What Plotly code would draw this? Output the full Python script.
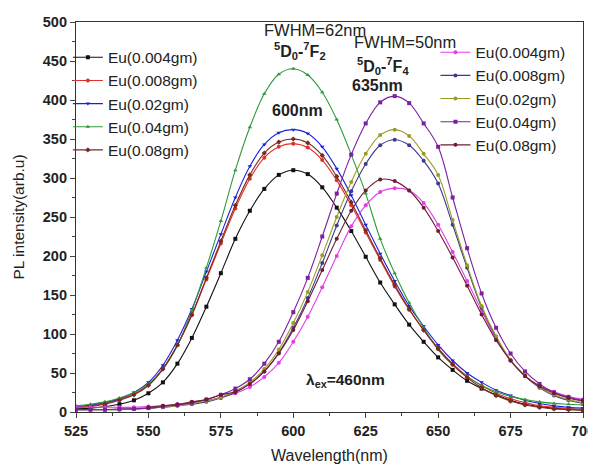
import plotly.graph_objects as go

wavelength = [525, 530, 535, 540, 545, 550, 555, 560, 565, 570, 575, 580, 585, 590, 595,
              600, 605, 610, 615, 620, 625, 630, 635, 640, 645, 650, 655, 660, 665, 670,
              675, 680, 685, 690, 695, 700]

labels = ["Eu(0.004gm)", "Eu(0.008gm)", "Eu(0.02gm)", "Eu(0.04gm)", "Eu(0.08gm)"]

# 5D0-7F2 band (600 nm)
f2_0004 = [4, 5, 7, 10, 15, 24, 38, 62, 95, 135, 178, 222, 258, 286, 304,
           310, 305, 288, 262, 232, 199, 166, 138, 112, 90, 70, 54, 40, 30, 22,
           15, 10, 7, 5, 4, 3]
f2_0008 = [6, 8, 11, 16, 23, 35, 56, 86, 124, 170, 216, 261, 299, 326, 340,
           344, 339, 323, 297, 265, 230, 195, 161, 131, 105, 82, 62, 46, 34, 24,
           17, 12, 8, 6, 4, 3]
f2_002 = [7, 9, 12, 17, 25, 38, 60, 92, 132, 180, 228, 275, 315, 343, 358,
          362, 357, 340, 312, 278, 240, 203, 168, 136, 110, 86, 66, 50, 38, 28,
          21, 15, 11, 8, 6, 5]
f2_004 = [8, 10, 13, 18, 25, 36, 55, 85, 130, 185, 245, 310, 365, 408, 433,
          440, 432, 410, 375, 330, 280, 222, 178, 140, 108, 80, 60, 45, 34, 26,
          20, 16, 13, 11, 10, 9]
f2_008 = [5, 7, 10, 15, 22, 34, 55, 86, 125, 172, 219, 265, 304, 332, 346,
          350, 345, 329, 302, 269, 233, 197, 163, 132, 105, 81, 61, 44, 31, 21,
          14, 9, 6, 4, 3, 2]

# 5D0-7F4 band (635 nm)
f4_0004 = [6, 6, 6, 6, 6, 7, 8, 10, 12, 15, 19, 24, 32, 45, 63,
           90, 122, 160, 200, 238, 265, 282, 287, 284, 268, 240, 205, 168, 130, 94,
           66, 46, 34, 26, 20, 16]
f4_0008 = [3, 3, 3, 3, 4, 5, 6, 8, 10, 13, 18, 25, 36, 52, 76,
           108, 146, 191, 239, 283, 318, 342, 349, 342, 322, 293, 240, 185, 134, 96,
           66, 46, 31, 21, 15, 11]
f4_002 = [3, 3, 3, 3, 4, 5, 6, 8, 11, 14, 19, 27, 38, 55, 80,
          114, 154, 201, 250, 295, 331, 355, 362, 354, 331, 304, 246, 188, 136, 97,
          67, 47, 32, 22, 16, 12]
f4_004 = [3, 3, 3, 4, 4, 5, 7, 9, 12, 16, 22, 30, 42, 62, 90,
          128, 172, 225, 280, 330, 370, 397, 405, 396, 370, 340, 275, 210, 152, 108,
          75, 52, 36, 25, 19, 15]
f4_008 = [None, None, None, None, None, 6, 8, 10, 13, 16, 22, 26, 36, 52, 75,
          105, 142, 182, 222, 258, 284, 298, 296, 284, 262, 232, 198, 162, 125, 92,
          66, 46, 33, 24, 18, 14]

f2_series = [f2_0004, f2_0008, f2_002, f2_004, f2_008]
f4_series = [f4_0004, f4_0008, f4_002, f4_004, f4_008]
f2_colors = ["#111111", "#e0302a", "#1a22d8", "#2e9a3a", "#7a2a1e"]
f4_colors = ["#e23ee6", "#3b3b8f", "#9b9b22", "#7d1fa0", "#6e1c32"]
f2_symbols = ["square", "circle", "triangle-down", "triangle-up", "diamond"]
f4_symbols = ["circle", "circle", "circle", "square", "circle"]

FONT = "Liberation Sans, Arial, sans-serif"

fig = go.Figure()
for lab, ys, c, s in zip(labels, f2_series, f2_colors, f2_symbols):
    fig.add_trace(go.Scatter(x=wavelength, y=ys, name=lab, mode="lines+markers",
                             line=dict(color=c, width=1.1, shape="spline"),
                             marker=dict(symbol=s, size=4, color=c),
                             legend="legend"))
for lab, ys, c, s in zip(labels, f4_series, f4_colors, f4_symbols):
    fig.add_trace(go.Scatter(x=wavelength, y=ys, name=lab, mode="lines+markers",
                             line=dict(color=c, width=1.1, shape="spline"),
                             marker=dict(symbol=s, size=4, color=c),
                             legend="legend2"))

ann_font = dict(family=FONT, size=16.5, color="#222222")
bold_font = dict(family=FONT, size=16, color="#222222", weight="bold")
annotations = [
    dict(x=607.5, y=490, text="FWHM=62nm", font=ann_font),
    dict(x=602.3, y=463, text="<sup>5</sup>D<sub>0</sub>-<sup>7</sup>F<sub>2</sub>", font=bold_font),
    dict(x=601.6, y=387, text="600nm", font=bold_font),
    dict(x=638.6, y=474, text="FWHM=50nm", font=ann_font),
    dict(x=631, y=444, text="<sup>5</sup>D<sub>0</sub>-<sup>7</sup>F<sub>4</sub>", font=bold_font),
    dict(x=628.9, y=419, text="635nm", font=bold_font),
    dict(x=617.9, y=41, text="λ<sub>ex</sub>=460nm", font=dict(family=FONT, size=15.5, color="#222222", weight="bold")),
]
for a in annotations:
    a.update(xref="x", yref="y", showarrow=False)

# the page body has an 8px default margin: size the figure so the plot lands
# where the reference has it inside the 596x468 window
leg_font = dict(family=FONT, size=15.5, color="#222222")
fig.update_layout(
    width=588, height=460,
    margin=dict(l=68, r=13, t=14, b=56),
    paper_bgcolor="white", plot_bgcolor="white",
    font=dict(family=FONT, color="#222222"),
    annotations=annotations,
    legend=dict(x=-0.016, y=0.952, xanchor="left", yanchor="top",
                bgcolor="rgba(0,0,0,0)", font=leg_font,
                tracegroupgap=0, itemwidth=30),
    legend2=dict(x=0.709, y=0.965, xanchor="left", yanchor="top",
                 bgcolor="rgba(0,0,0,0)", font=leg_font,
                 tracegroupgap=0, itemwidth=30),
    showlegend=True,
)
fig.update_xaxes(range=[525, 700], dtick=25, tick0=525, ticks="outside", ticklen=5,
                 showline=True, linecolor="#333333", linewidth=1.2, mirror=True,
                 showgrid=False, zeroline=False, automargin=False,
                 tickfont=dict(family=FONT, size=14.5, color="#222222", weight="bold"),
                 minor=dict(ticks="outside", ticklen=3, dtick=12.5, tick0=525, showgrid=False),
                 title=dict(text="Wavelength(nm)", font=dict(family=FONT, size=16, color="#222222"),
                            standoff=12))
fig.update_yaxes(range=[0, 500], dtick=50, ticks="outside", ticklen=5,
                 showline=True, linecolor="#333333", linewidth=1.2, mirror=True,
                 showgrid=False, zeroline=False, automargin=False,
                 tickfont=dict(family=FONT, size=14.5, color="#222222", weight="bold"),
                 minor=dict(ticks="outside", ticklen=3, dtick=25, showgrid=False),
                 title=dict(text="PL intensity(arb.u)", font=dict(family=FONT, size=15.5, color="#222222"),
                            standoff=14))

fig.write_html("out.html")
